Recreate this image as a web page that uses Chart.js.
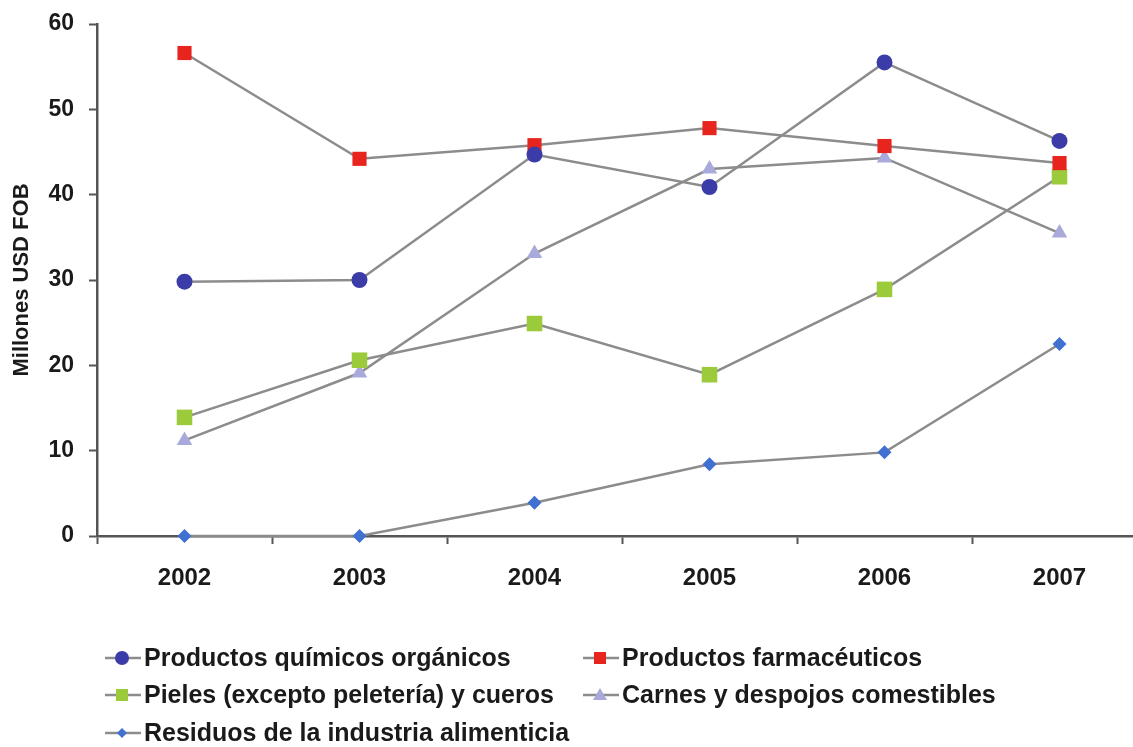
<!DOCTYPE html>
<html>
<head>
<meta charset="utf-8">
<script src="https://cdn.jsdelivr.net/npm/chart.js@4/dist/chart.umd.min.js"></script>
<style>
  html, body { margin: 0; padding: 0; background: #fff; overflow: hidden; }
  #chartCanvas { display: block; }
</style>
</head>
<body>
<canvas id="chartCanvas" width="1158" height="747"></canvas>
<script>
    /********** DATI **********/
    const years = ["2002", "2003", "2004", "2005", "2006", "2007"];
    const quimicos     = [29.8, 30.0, 44.7, 40.9, 55.5, 46.3];
    const farmaceut    = [56.6, 44.2, 45.8, 47.8, 45.7, 43.7];
    const pieles       = [13.9, 20.6, 24.9, 18.9, 28.9, 42.1];
    const carnes       = [11.2, 19.1, 33.1, 43.0, 44.3, 35.5];
    const residuos     = [0, 0, 3.9, 8.4, 9.8, 22.5];
    const yTicks = [0, 10, 20, 30, 40, 50, 60];

    const lineGray = "#8c8c8c";
    const axisGray = "#555555";

    function serie(label, data, color, style, radius) {
      return {
        label: label,
        data: data,
        borderColor: lineGray,
        borderWidth: 2.5,
        pointStyle: style,
        pointRadius: radius,
        pointHoverRadius: radius,
        pointBackgroundColor: color,
        pointBorderWidth: 0,
        tension: 0,
        clip: false
      };
    }

    const datasets = [
      serie("Productos químicos orgánicos", quimicos, "#3b3ca8", "circle", 8),
      serie("Productos farmacéuticos", farmaceut, "#e8241e", "rect", 10),
      serie("Pieles (excepto peletería) y cueros", pieles, "#9bcb3b", "rect", 11),
      serie("Carnes y despojos comestibles", carnes, "#a9a9dc", "triangle", 9),
      serie("Residuos de la industria alimenticia", residuos, "#4070d0", "rectRot", 7)
    ];

    /********** LEGENDA DISEGNATA A MANO **********/
    const legendPos = [
      { x: 105, y: 658 }, { x: 583, y: 658 },
      { x: 105, y: 695 }, { x: 583, y: 695 },
      { x: 105, y: 733 }
    ];
    const legendPlugin = {
      id: "legendaCustom",
      afterDraw(chart) {
        const ctx = chart.ctx;
        ctx.save();
        chart.data.datasets.forEach((ds, i) => {
          const p = legendPos[i];
          ctx.strokeStyle = lineGray;
          ctx.lineWidth = 2.5;
          ctx.beginPath();
          ctx.moveTo(p.x, p.y);
          ctx.lineTo(p.x + 36, p.y);
          ctx.stroke();
          const mx = p.x + 17, my = p.y;
          ctx.fillStyle = ds.pointBackgroundColor;
          ctx.beginPath();
          if (ds.pointStyle === "circle") {
            ctx.arc(mx, my, 7, 0, Math.PI * 2);
          } else if (ds.pointStyle === "rect") {
            ctx.rect(mx - 6, my - 6, 12, 12);
          } else if (ds.pointStyle === "triangle") {
            ctx.moveTo(mx, my - 7);
            ctx.lineTo(mx + 7, my + 5);
            ctx.lineTo(mx - 7, my + 5);
            ctx.closePath();
          } else {
            ctx.moveTo(mx, my - 5);
            ctx.lineTo(mx + 5, my);
            ctx.lineTo(mx, my + 5);
            ctx.lineTo(mx - 5, my);
            ctx.closePath();
          }
          ctx.fill();
          ctx.fillStyle = "#1a1a1a";
          ctx.font = "bold 25px 'Liberation Sans', Arial, sans-serif";
          ctx.textBaseline = "middle";
          ctx.textAlign = "left";
          ctx.fillText(ds.label, p.x + 39, p.y + 1);
        });
        ctx.restore();
      }
    };

    /********** CHART.JS SETUP **********/
    const ctx = document.getElementById("chartCanvas").getContext("2d");
    new Chart(ctx, {
      type: "line",
      data: { labels: years, datasets: datasets },
      options: {
        responsive: false,
        animation: false,
        layout: { padding: { top: 24, right: 0, bottom: 0, left: 0 } },
        plugins: {
          legend: { display: false },
          tooltip: { enabled: false }
        },
        scales: {
          x: {
            offset: true,
            grid: {
              offset: true,
              drawOnChartArea: false,
              tickLength: 8,
              tickWidth: 2,
              color: axisGray
            },
            border: { color: axisGray, width: 2.5 },
            ticks: {
              color: "#1a1a1a",
              padding: 20,
              font: { family: "'Liberation Sans', Arial, sans-serif", size: 24, weight: "bold" },
              maxRotation: 0
            },
            afterFit(scale) { scale.height = 211; scale.paddingLeft = 0; scale.paddingRight = 0; }
          },
          y: {
            min: 0,
            max: 60,
            afterBuildTicks(scale) { scale.ticks = yTicks.map(v => ({ value: v })); },
            grid: {
              drawOnChartArea: false,
              tickLength: 8,
              tickWidth: 2,
              color: axisGray
            },
            border: { color: axisGray, width: 2.5 },
            ticks: {
              color: "#1a1a1a",
              padding: 15,
              font: { family: "'Liberation Sans', Arial, sans-serif", size: 23, weight: "bold" }
            },
            title: {
              display: true,
              text: "Millones USD FOB",
              color: "#1a1a1a",
              padding: { top: 9, bottom: 0 },
              font: { family: "'Liberation Sans', Arial, sans-serif", size: 22, weight: "bold" }
            },
            afterFit(scale) { scale.width = 97; scale.paddingTop = 0; scale.paddingBottom = 0; }
          }
        }
      },
      plugins: [legendPlugin]
    });
</script>
</body>
</html>
